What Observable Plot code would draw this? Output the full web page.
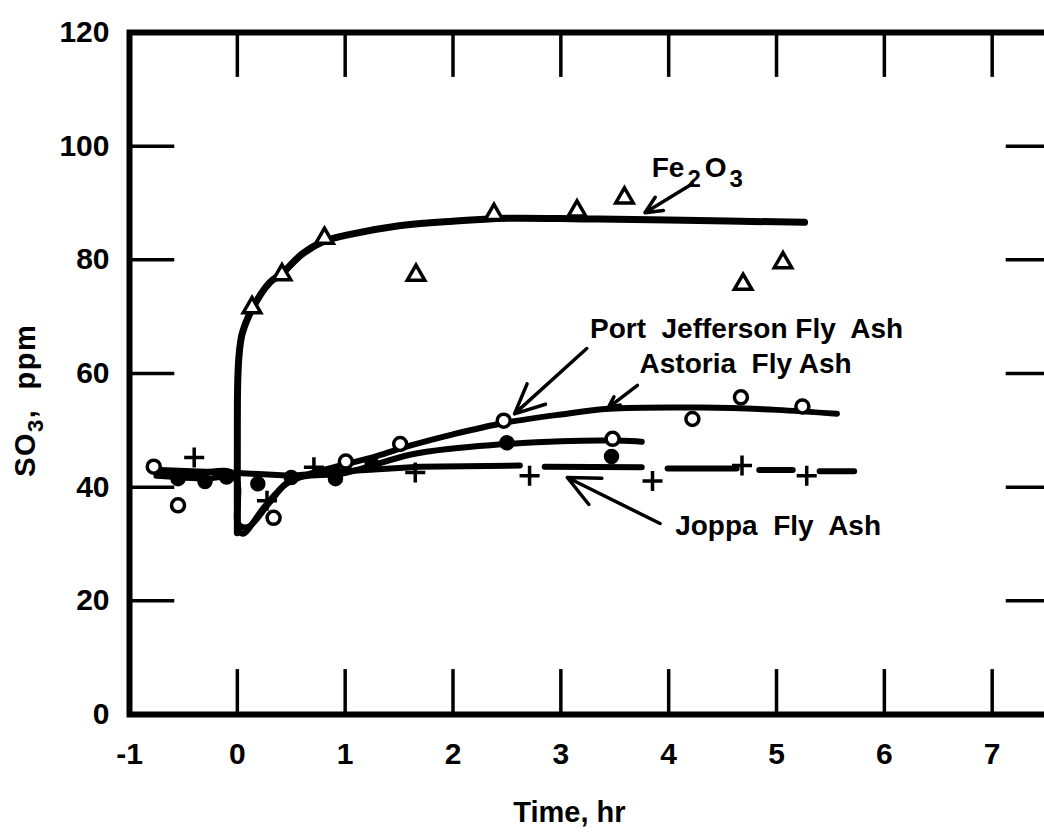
<!DOCTYPE html>
<html><head><meta charset="utf-8">
<script src="https://cdn.jsdelivr.net/npm/d3@7"></script>
<script src="https://cdn.jsdelivr.net/npm/@observablehq/plot@0.6"></script>
<style>
html,body{margin:0;padding:0;background:#fff;overflow:hidden;width:1044px;height:835px;}
svg{max-width:none !important;}
svg text{font-family:"Liberation Sans",Arial,sans-serif;font-weight:bold;white-space:pre;}
</style></head><body><div id="chart"></div>
<script>
// ---- axis ticks ----
const xTicks = [-1, 0, 1, 2, 3, 4, 5, 6, 7];
const yTicks = [0, 20, 40, 60, 80, 100, 120];
const xDomain = [-1, 7.55];
const yDomain = [0, 120];

// ---- Fe2O3 (open triangles + curve) ----
const feTriT = [0.136, 0.414, 0.808, 1.657, 2.38, 3.15, 3.59, 4.69, 5.06];
const feTriV = [71.6, 77.4, 83.8, 77.3, 88.0, 88.6, 90.9, 75.7, 79.5];
const feCurveT = [0, 0, 0.003, 0.015, 0.045, 0.136, 0.3, 0.414, 0.6, 0.808, 1.0, 1.5, 2.0, 2.5, 3.2, 4.0, 5.26];
const feCurveV = [32, 50, 58, 63, 67, 71.3, 76, 77.6, 81, 83.3, 84.3, 86, 86.8, 87.3, 87.2, 87, 86.6];

// ---- Port Jefferson fly ash (upper curve, open circles) ----
const pjCurveT = [-0.75, -0.4, -0.03, 0.005, 0.05, 0.25, 0.45, 0.7, 1.0, 1.3, 1.6, 2.0, 2.47, 3.0, 3.45, 4.3, 5.0, 5.56];
const pjCurveV = [43, 42.5, 42.3, 33, 31.8, 36.5, 40.5, 42.5, 44, 45.5, 47.3, 49.3, 51.3, 52.8, 53.8, 54, 53.6, 52.9];
const openT = [-0.775, -0.55, 0.336, 1.006, 1.51, 2.47, 3.48, 4.22, 4.67, 5.24];
const openV = [43.6, 36.8, 34.6, 44.5, 47.6, 51.7, 48.5, 52.0, 55.8, 54.2];

// ---- Astoria fly ash (middle curve, filled circles) ----
const asCurveT = [-0.75, -0.3, -0.02, 0.01, 0.1, 0.3, 0.5, 1.0, 1.6, 2.0, 2.5, 3.0, 3.5, 3.75];
const asCurveV = [42, 41.5, 41.5, 33.5, 33, 37.3, 41.3, 42.5, 45.7, 46.8, 47.6, 48.1, 48.2, 48];
const filledT = [-0.55, -0.3, -0.1, 0.19, 0.5, 0.91, 1.25, 2.5, 3.47];
const filledV = [41.5, 41, 41.8, 40.6, 41.7, 41.5, 44.0, 47.8, 45.4];

// ---- Joppa fly ash (dashed line, crosses) ----
const joSegId = [1, 1, 1, 1, 1, 1, 2, 2, 3, 3, 4, 4, 5, 5];
const joSegT = [-0.72, 0, 0.5, 1.0, 1.69, 2.62, 2.85, 3.75, 3.99, 4.63, 4.84, 5.15, 5.40, 5.72];
const joSegV = [43, 42.5, 42, 42.8, 43.6, 43.8, 43.6, 43.5, 43.3, 43.3, 43, 43, 42.8, 42.8];
const crossT = [-0.4, 0.275, 0.71, 1.65, 2.71, 3.85, 4.68, 5.28];
const crossV = [45.2, 37.6, 43.5, 42.6, 42.0, 41.1, 43.8, 42.0];

// ---- annotations ----
const labelText = ["Port  Jefferson Fly  Ash", "Astoria  Fly Ash", "Joppa  Fly  Ash"];
const labelT = [3.27, 3.73, 4.06];
const labelV = [66.3, 60.1, 31.5];
const arrowT1 = [4.22, 3.24, 3.71, 3.92];
const arrowV1 = [93.4, 64.4, 57.9, 33.6];
const arrowT2 = [3.78, 2.57, 3.44, 3.06];
const arrowV2 = [88.3, 52.9, 54.0, 41.7];
const feLabelT = 4.27, feLabelV = 94.4;
const xTitle = "Time, hr", xTitleT = 3.08;

// build tables
const zip = (a, b) => a.map((v, i) => ({x: v, y: b[i]}));
const feTri = zip(feTriT, feTriV);
const feCurve = zip(feCurveT, feCurveV);
const pjCurve = zip(pjCurveT, pjCurveV);
const asCurve = zip(asCurveT, asCurveV);
const openPts = zip(openT, openV);
const filledPts = zip(filledT, filledV);
const crossPts = zip(crossT, crossV);
const joSeg = joSegT.map((t, i) => ({x: t, y: joSegV[i], z: joSegId[i]}));
const labels = labelText.map((s, i) => ({s, x: labelT[i], y: labelV[i]}));
const arrows = arrowT1.map((t, i) => ({x1: t, y1: arrowV1[i], x2: arrowT2[i], y2: arrowV2[i]}));
const innerTicksY = yTicks.filter(v => v > 0 && v < 120);
const innerTicksX = xTicks.filter(v => v > -1);
const tickLenX = 0.42, tickLenY = 7.9;

const lineOpts = {x: "x", y: "y", stroke: "black", strokeLinecap: "round", strokeLinejoin: "round", curve: "catmull-rom"};

const plot = Plot.plot({
  width: 1056, height: 835,
  marginLeft: 129, marginRight: 5, marginTop: 32, marginBottom: 121,
  x: {domain: xDomain, axis: null},
  y: {domain: yDomain, axis: null},
  style: {background: "white", color: "black", fontFamily: "Liberation Sans, Arial, sans-serif", fontWeight: "bold", overflow: "visible", maxWidth: "none"},
  marks: [
    Plot.ruleY(innerTicksY, {x1: xDomain[0], x2: xDomain[0] + tickLenX, y: d => d, strokeWidth: 3.5}),
    Plot.ruleY(innerTicksY, {x1: xDomain[1] - tickLenX, x2: xDomain[1], y: d => d, strokeWidth: 3.5}),
    Plot.ruleX(innerTicksX, {y1: 0, y2: tickLenY, x: d => d, strokeWidth: 3.5}),
    Plot.ruleX(innerTicksX, {y1: 120 - tickLenY, y2: 120, x: d => d, strokeWidth: 3.5}),
    Plot.frame({stroke: "black", strokeWidth: 6}),
    Plot.text(xTicks, {x: d => d, y: 0, dy: 40, text: d => String(d), fontSize: 30}),
    Plot.text(yTicks, {x: xDomain[0], y: d => d, dx: -20, textAnchor: "end", text: d => String(d), fontSize: 30}),
    Plot.text([xTitle], {x: xTitleT, y: 0, dy: 98, text: d => d, fontSize: 29}),
    Plot.line(feCurve, {...lineOpts, strokeWidth: 7}),
    Plot.line(pjCurve, {...lineOpts, strokeWidth: 6}),
    Plot.line(asCurve, {...lineOpts, strokeWidth: 6}),
    Plot.line(joSeg, {...lineOpts, z: "z", strokeWidth: 6, curve: "linear"}),
    Plot.dot(feTri, {x: "x", y: "y", symbol: "triangle", r: 6.5, stroke: "black", strokeWidth: 3.5, fill: "white"}),
    Plot.dot(filledPts, {x: "x", y: "y", r: 7, fill: "black", stroke: "black"}),
    Plot.dot(openPts, {x: "x", y: "y", r: 6.5, stroke: "black", strokeWidth: 3.5, fill: "white"}),
    Plot.dot(crossPts, {x: "x", y: "y", symbol: "plus", r: 6.5, stroke: "black", strokeWidth: 3.5}),
    Plot.arrow(arrows, {x1: "x1", y1: "y1", x2: "x2", y2: "y2", stroke: "black", strokeWidth: 3.5, headLength: 16, headAngle: 50}),
    Plot.text(labels, {x: "x", y: "y", text: "s", textAnchor: "start", lineAnchor: "bottom", fontSize: 28})
  ]
});
document.getElementById("chart").appendChild(plot);

// subscript labels (Fe2O3 and SO3, ppm), positioned through the plot's scales
const svg = d3.select(plot);
const sx = plot.scale("x"), sy = plot.scale("y");
const fe = svg.append("text")
  .attr("x", sx.apply(feLabelT)).attr("y", sy.apply(feLabelV))
  .attr("font-size", 28).attr("fill", "black");
fe.append("tspan").text("Fe");
fe.append("tspan").attr("dx", 3).attr("dy", 10).attr("font-size", 24).text("2");
fe.append("tspan").attr("dx", 4).attr("dy", -10).text("O");
fe.append("tspan").attr("dx", 3).attr("dy", 10).attr("font-size", 24).text("3");

const yl = svg.append("text")
  .attr("transform", `translate(${sx.apply(xDomain[0]) - 94},${sy.apply(55.2)}) rotate(-90)`)
  .attr("text-anchor", "middle").attr("font-size", 29).attr("fill", "black").attr("letter-spacing", 1.5);
yl.append("tspan").text("SO");
yl.append("tspan").attr("dy", 8).attr("font-size", 22).text("3");
yl.append("tspan").attr("dy", -8).text(",  ppm");
</script></body></html>
